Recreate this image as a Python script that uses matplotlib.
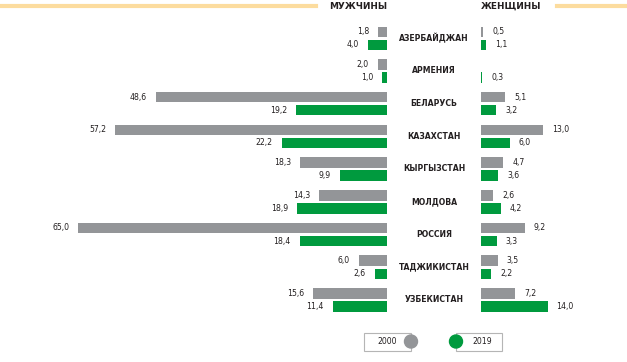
import numpy as np
import matplotlib
matplotlib.use('Agg')
import matplotlib.pyplot as plt
from matplotlib.patches import Rectangle, Circle
from matplotlib.lines import Line2D

countries = ['АЗЕРБАЙДЖАН', 'АРМЕНИЯ', 'БЕЛАРУСЬ', 'КАЗАХСТАН', 'КЫРГЫЗСТАН',
             'МОЛДОВА', 'РОССИЯ', 'ТАДЖИКИСТАН', 'УЗБЕКИСТАН']
men_2000 = [1.8, 2.0, 48.6, 57.2, 18.3, 14.3, 65.0, 6.0, 15.6]
men_2019 = [4.0, 1.0, 19.2, 22.2, 9.9, 18.9, 18.4, 2.6, 11.4]
women_2000 = [0.5, np.nan, 5.1, 13.0, 4.7, 2.6, 9.2, 3.5, 7.2]
women_2019 = [1.1, 0.3, 3.2, 6.0, 3.6, 4.2, 3.3, 2.2, 14.0]
years = ['2000', '2019']

GRAY = '#939598'
GREEN = '#009a3e'
BEIGE = '#fcdc9e'
TXT = '#231f20'

plt.rcParams['font.family'] = ['DejaVu Sans']

W, H = 627, 362
fig = plt.figure(figsize=(W / 100, H / 100), dpi=100)
fig.patch.set_facecolor('white')

px = 4.75           # pixels per unit
x0_men, x0_women = 387, 481
row0, step = 38, 32.7
ylim = ((H - row0) / step, -row0 / step)

ax_m = fig.add_axes([0, 0, x0_men / W, 1])
ax_m.set_xlim(x0_men / px, 0)
ax_w = fig.add_axes([x0_women / W, 0, 1 - x0_women / W, 1])
ax_w.set_xlim(0, (W - x0_women) / px)
for ax in (ax_m, ax_w):
    ax.set_ylim(*ylim)
    ax.axis('off')

y = np.arange(len(countries))
off_a, off_b, h = -0.19, 0.21, 0.32

def fmt(v):
    return f'{v:.1f}'.replace('.', ',')

for ax, a, b, ha in [(ax_m, men_2000, men_2019, 'right'),
                     (ax_w, women_2000, women_2019, 'left')]:
    ax.barh(y + off_a, a, height=h, color=GRAY)
    ax.barh(y + off_b, b, height=h, color=GREEN)
    for yi, va, vb in zip(y, a, b):
        for v, o in [(va, off_a), (vb, off_b)]:
            if np.isnan(v):
                continue
            ax.text(v + 9 / px, yi + o, fmt(v), ha=ha, va='center',
                    fontsize=5.6, color=TXT)

# country names in the middle
for yi, name in zip(y, countries):
    fy = 1 - (row0 + step * yi) / H
    fig.text(434 / W, fy, name, ha='center', va='center',
             fontsize=5.6, fontweight='bold', color=TXT)

# header
fig.add_artist(Line2D([0, 316 / W], [1 - 6 / H] * 2, color=BEIGE, lw=3))
fig.add_artist(Line2D([557 / W, 1], [1 - 6 / H] * 2, color=BEIGE, lw=3))
fig.text(x0_men / W, 1 - 6.5 / H, 'МУЖЧИНЫ', ha='right', va='center',
         fontsize=6.4, fontweight='bold', color=TXT)
fig.text(x0_women / W, 1 - 6.5 / H, 'ЖЕНЩИНЫ', ha='left', va='center',
         fontsize=6.4, fontweight='bold', color=TXT)

# legend
ax_l = fig.add_axes([0, 0, 1, 1], facecolor='none')
ax_l.set_xlim(0, W)
ax_l.set_ylim(H, 0)
ax_l.set_aspect('equal')
ax_l.axis('off')
for (x1, x2, cx, tx), col, lab in [((364, 411, 411, 387), GRAY, years[0]),
                                  ((456, 502, 456, 482), GREEN, years[1])]:
    ax_l.add_patch(Rectangle((x1, 333), x2 - x1, 18, fill=False,
                             ec='#b5b5b5', lw=0.8))
    ax_l.add_patch(Circle((cx, 341.5), 6.5, color=col))
    ax_l.text(tx, 342, lab, ha='center', va='center', fontsize=5.6, color=TXT)

fig.savefig('out.png', dpi=100)
